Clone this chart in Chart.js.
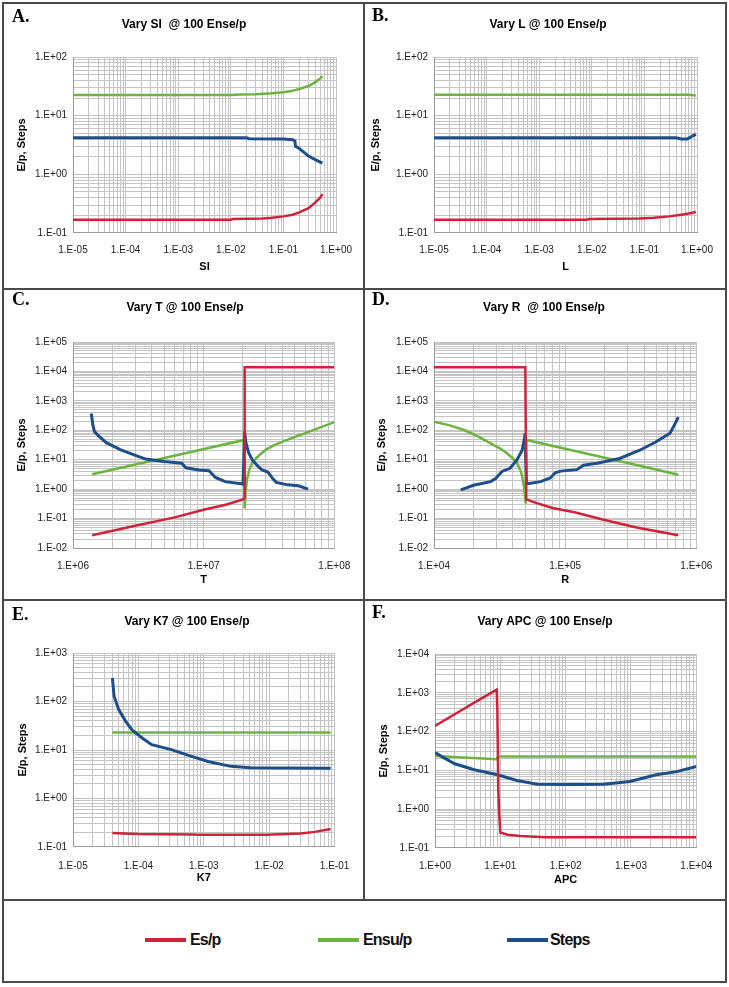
<!DOCTYPE html>
<html>
<head>
<meta charset="utf-8">
<title>Vary parameters @ 100 Ense/p</title>
<script src="https://cdn.jsdelivr.net/npm/chart.js@4.4.1/dist/chart.umd.min.js"></script>
<style>
  body { margin: 0; background: #fff; }
  #page { position: relative; width: 729px; height: 987px; font-family: "Liberation Sans", Arial, sans-serif; }
  .frame { position: absolute; left: 2px; top: 2px; width: 725px; height: 981px; box-sizing: border-box; border: 2px solid #4a4a4a; }
  .rule { position: absolute; background: #4a4a4a; }
  canvas { position: absolute; }
  .key { position: absolute; top: 938px; width: 41px; height: 4px; }
  .keytxt { position: absolute; top: 929px; line-height: 22px; font-size: 16px; font-weight: bold; letter-spacing: -0.8px; color: #111; }
</style>
</head>
<body>
<div id="page">
  <div class="frame"></div>
  <div class="rule" style="left:363px;top:2px;width:2px;height:899px"></div>
  <div class="rule" style="left:2px;top:288px;width:725px;height:2px"></div>
  <div class="rule" style="left:2px;top:599px;width:725px;height:2px"></div>
  <div class="rule" style="left:2px;top:899px;width:725px;height:2px"></div>

  <canvas id="cA" width="359" height="284" style="left:4px;top:4px"></canvas>
  <canvas id="cB" width="360" height="284" style="left:365px;top:4px"></canvas>
  <canvas id="cC" width="359" height="309" style="left:4px;top:290px"></canvas>
  <canvas id="cD" width="360" height="309" style="left:365px;top:290px"></canvas>
  <canvas id="cE" width="359" height="298" style="left:4px;top:601px"></canvas>
  <canvas id="cF" width="360" height="298" style="left:365px;top:601px"></canvas>

  <div class="key" style="left:145px;background:#d0223b"></div>
  <div class="keytxt" style="left:190px">Es/p</div>
  <div class="key" style="left:318px;background:#6db33f"></div>
  <div class="keytxt" style="left:363px">Ensu/p</div>
  <div class="key" style="left:507px;background:#1d4e89"></div>
  <div class="keytxt" style="left:550px">Steps</div>
</div>

<script>
// ---- values, [x, y] per point ----
// A. vary SI
const siRangeX = [1e-5, 1e0], siRangeY = [1e-1, 1e2];
const siEs = [[1e-5,0.168],[1e-2,0.168],[1.1e-2,0.173],[4e-2,0.176],[0.06,0.182],[0.1,0.192],[0.15,0.205],[0.2,0.225],[0.3,0.265],[0.4,0.33],[0.5,0.4],[0.55,0.46]];
const siEnsu = [[1e-5,22.5],[1e-2,22.5],[1.5e-2,23],[3e-2,23.2],[0.06,24],[0.1,25],[0.15,26.5],[0.2,28.5],[0.3,32],[0.4,37],[0.5,43],[0.55,47]];
const siSteps = [[1e-5,4.2],[0.02,4.2],[0.022,4.05],[0.1,4.0],[0.15,3.9],[0.165,3.7],[0.17,3.0],[0.2,2.75],[0.25,2.35],[0.3,2.05],[0.35,1.9],[0.45,1.7],[0.55,1.55]];

// B. vary L
const lRangeX = [1e-5, 1e0], lRangeY = [1e-1, 1e2];
const lEs = [[1e-5,0.168],[8e-3,0.168],[9e-3,0.173],[0.08,0.176],[0.15,0.182],[0.3,0.192],[0.5,0.205],[0.7,0.215],[0.95,0.228]];
const lEnsu = [[1e-5,22.8],[0.7,22.8],[0.95,22]];
const lSteps = [[1e-5,4.2],[0.4,4.2],[0.5,4.0],[0.65,4.0],[0.75,4.3],[0.95,4.8]];

// C. vary T
const tRangeX = [1e6, 1e8], tRangeY = [1e-2, 1e5];
const tEs = [[1.4e6,0.027],[3e6,0.057],[6e6,0.11],[1e7,0.2],[1.5e7,0.3],[2.0e7,0.45],[2.06e7,0.5],[2.06e7,14000],[1e8,14000]];
const tEnsu = [[1.4e6,3.2],[5e6,11.5],[2.05e7,47],[2.06e7,0.22],[2.1e7,0.9],[2.15e7,2.2],[2.25e7,5],[2.4e7,9],[2.7e7,15],[3e7,22],[3.5e7,32],[4.5e7,50],[6e7,80],[8e7,130],[1e8,190]];
const tSteps = [[1.38e6,370],[1.42e6,150],[1.46e6,90],[1.6e6,60],[1.8e6,38],[2.3e6,22],[2.9e6,15],[3.6e6,10.5],[5e6,8.7],[6.8e6,7.6],[7.3e6,5.3],[9.2e6,4.5],[1.1e7,4.2],[1.23e7,2.5],[1.46e7,1.8],[2.0e7,1.5],[2.06e7,90],[2.1e7,40],[2.2e7,18],[2.35e7,10],[2.6e7,6],[2.8e7,4.5],[3.1e7,3.8],[3.4e7,2.2],[3.6e7,1.7],[4.4e7,1.4],[5.3e7,1.3],[6.3e7,1.0]];

// D. vary R
const rRangeX = [1e4, 1e6], rRangeY = [1e-2, 1e5];
const rEs = [[1e4,14000],[4.97e4,14000],[5.05e4,0.45],[6e4,0.34],[8e4,0.23],[1.2e5,0.16],[2e5,0.09],[3.5e5,0.05],[5e5,0.037],[7.3e5,0.027]];
const rEnsu = [[1e4,195],[1.3e4,150],[1.7e4,102],[2.2e4,60],[2.7e4,36],[3.2e4,24],[3.6e4,16.6],[4e4,11],[4.3e4,7.6],[4.6e4,4],[4.7e4,2.7],[4.9e4,0.95],[5.0e4,0.32],[5.07e4,47],[1.5e5,15.6],[3e5,7.7],[7.3e5,3.1]];
const rSteps = [[1.6e4,0.95],[2.0e4,1.35],[2.7e4,1.8],[2.95e4,2.3],[3.3e4,4.0],[3.8e4,5.1],[4.3e4,10],[4.7e4,21],[4.9e4,55],[4.95e4,80],[5.07e4,1.5],[6.5e4,1.8],[7.7e4,2.4],[8.4e4,3.6],[9.2e4,4.1],[1.23e5,4.6],[1.38e5,6.5],[1.75e5,7.6],[2.6e5,11],[3.7e5,21],[4.9e5,40],[6.3e5,79],[6.8e5,150],[7.3e5,280]];

// E. vary K7
const k7RangeX = [1e-5, 1e-1], k7RangeY = [1e-1, 1e3];
const k7Es = [[4e-5,0.195],[6e-5,0.19],[1e-4,0.186],[7e-4,0.182],[8e-4,0.178],[0.01,0.178],[0.011,0.182],[0.03,0.19],[0.05,0.205],[0.087,0.235]];
const k7Ensu = [[4e-5,23],[0.087,23]];
const k7Steps = [[4e-5,305],[4.25e-5,128],[5e-5,68],[6.4e-5,39],[8e-5,26],[1.14e-4,17.7],[1.6e-4,12.9],[3.2e-4,10.2],[6.5e-4,7.4],[1.16e-3,5.8],[2.6e-3,4.6],[5.2e-3,4.3],[0.087,4.2]];

// F. vary APC
const apcRangeX = [1e0, 1e4], apcRangeY = [1e-1, 1e4];
const apcEs = [[1,140],[2,280],[4,560],[8.8,1200],[9.0,400],[9.3,3.5],[9.6,0.8],[10,0.25],[13,0.22],[20,0.205],[50,0.19],[1e4,0.19]];
const apcEnsu = [[1,23.5],[8.8,19.5],[9.2,22.8],[1e4,22.8]];
const apcSteps = [[1,29],[1.4,20.7],[2,14.8],[4,10.4],[9,7.7],[18,5.5],[37,4.4],[117,4.3],[380,4.4],[960,5.2],[2440,7.7],[5000,9.3],[1e4,12.6]];

const RED = '#d0223b', GREEN = '#6db33f', BLUE = '#1d4e89';

Chart.defaults.font.family = '"Liberation Sans", Arial, sans-serif';

// 1.E+02 style labels, only on the decades
function expLabel(v) {
    const l = Math.log10(v);
    const e = Math.round(l);
    if (Math.abs(l - e) > 1e-6) return '';
    return '1.E' + (e < 0 ? '-' : '+') + String(Math.abs(e)).padStart(2, '0');
}

// grid at 1..9 of every decade
function logGrid(scale) {
    const lo = Math.round(Math.log10(scale.options.min));
    const hi = Math.round(Math.log10(scale.options.max));
    const ticks = [];
    for (let e = lo; e < hi; e++) {
        for (let m = 1; m < 10; m++) ticks.push({value: m * Math.pow(10, e)});
    }
    ticks.push({value: Math.pow(10, hi)});
    scale.ticks = ticks;
}

const pts = arr => arr.map(([x, y]) => ({x, y}));

// title + panel letter
const panelText = {
    id: 'panelText',
    afterDraw(chart, args, o) {
        const ctx = chart.ctx;
        ctx.save();
        ctx.fillStyle = '#000';
        ctx.textBaseline = 'middle';
        ctx.textAlign = 'center';
        ctx.font = 'bold 12px "Liberation Sans", Arial, sans-serif';
        ctx.fillText(o.title, o.x, o.y);
        ctx.textAlign = 'left';
        ctx.textBaseline = 'alphabetic';
        ctx.font = 'bold 18px "Liberation Serif", "Times New Roman", serif';
        ctx.fillText(o.letter, o.lx, o.ly);
        ctx.restore();
    }
};

const panels = [
    {id: 'cA', box: [4, 4, 359, 284], plot: [73, 57, 337, 233], letter: 'A.', lx: 12, ly: 22,
     title: 'Vary SI  @ 100 Ense/p', titleX: 184, titleY: 25, xTitle: 'SI', xTitleY: 267, yTitleX: 22, xTickY: 250,
     rx: siRangeX, ry: siRangeY, es: siEs, ensu: siEnsu, steps: siSteps},
    {id: 'cB', box: [365, 4, 360, 284], plot: [434, 57, 697, 233], letter: 'B.', lx: 372, ly: 21,
     title: 'Vary L @ 100 Ense/p', titleX: 548, titleY: 25, xTitle: 'L', xTitleY: 267, yTitleX: 376, xTickY: 250,
     rx: lRangeX, ry: lRangeY, es: lEs, ensu: lEnsu, steps: lSteps},
    {id: 'cC', box: [4, 290, 359, 309], plot: [73, 342, 337, 548], letter: 'C.', lx: 12, ly: 305,
     title: 'Vary T @ 100 Ense/p', titleX: 185, titleY: 308, xTitle: 'T', xTitleY: 580, yTitleX: 22, xTickY: 566.7,
     rx: tRangeX, ry: tRangeY, es: tEs, ensu: tEnsu, steps: tSteps},
    {id: 'cD', box: [365, 290, 360, 309], plot: [434, 342, 697, 548], letter: 'D.', lx: 372, ly: 305,
     title: 'Vary R  @ 100 Ense/p', titleX: 544, titleY: 308, xTitle: 'R', xTitleY: 580, yTitleX: 382, xTickY: 566.7,
     rx: rRangeX, ry: rRangeY, es: rEs, ensu: rEnsu, steps: rSteps},
    {id: 'cE', box: [4, 601, 359, 298], plot: [73, 653, 338, 847], letter: 'E.', lx: 12, ly: 620,
     title: 'Vary K7 @ 100 Ense/p', titleX: 187, titleY: 622, xTitle: 'K7', xTitleY: 878, yTitleX: 23, xTickY: 866.7,
     rx: k7RangeX, ry: k7RangeY, es: k7Es, ensu: k7Ensu, steps: k7Steps},
    {id: 'cF', box: [365, 601, 360, 298], plot: [435, 654, 697, 848], letter: 'F.', lx: 372, ly: 618,
     title: 'Vary APC @ 100 Ense/p', titleX: 545, titleY: 622, xTitle: 'APC', xTitleY: 880, yTitleX: 384, xTickY: 866.7,
     rx: apcRangeX, ry: apcRangeY, es: apcEs, ensu: apcEnsu, steps: apcSteps}
];

function buildPanel(p) {
    const [bx, by, W, H] = p.box;
    const L = p.plot[0] - bx, T = p.plot[1] - by, R = p.plot[2] - bx, B = p.plot[3] - by;
    const padL = p.yTitleX - bx - 6.6;
    const padB = H - (p.xTitleY - by) - 6.6;
    const grid = {color: '#c4c4c4', lineWidth: 1, drawTicks: false};
    const tickFont = {size: 10};
    const titleFont = {size: 11, weight: 'bold'};

    new Chart(document.getElementById(p.id), {
        type: 'line',
        data: {
            datasets: [
                {label: 'Es/p', data: pts(p.es), borderColor: RED, borderWidth: 2.5},
                {label: 'Steps', data: pts(p.steps), borderColor: BLUE, borderWidth: 3},
                {label: 'Ensu/p', data: pts(p.ensu), borderColor: GREEN, borderWidth: 2.5}
            ]
        },
        options: {
            responsive: false,
            animation: false,
            layout: {padding: {left: padL, right: W - R, top: T, bottom: padB}},
            elements: {point: {radius: 0}, line: {tension: 0}},
            plugins: {
                legend: {display: false},
                tooltip: {enabled: false},
                panelText: {title: p.title, x: p.titleX - bx, y: p.titleY - by, letter: p.letter, lx: p.lx - bx, ly: p.ly - by}
            },
            scales: {
                x: {
                    type: 'logarithmic', min: p.rx[0], max: p.rx[1],
                    afterBuildTicks: logGrid,
                    afterFit: s => { s.height = (H - padB) - B; },
                    grid: grid,
                    border: {color: '#9a9a9a'},
                    ticks: {autoSkip: false, maxRotation: 0, minRotation: 0, padding: p.xTickY - p.plot[3] - 6,
                            color: '#222', font: tickFont, callback: v => expLabel(v)},
                    title: {display: true, text: p.xTitle, color: '#000', font: titleFont, padding: 0}
                },
                y: {
                    type: 'logarithmic', min: p.ry[0], max: p.ry[1],
                    afterBuildTicks: logGrid,
                    afterFit: s => { s.width = L - padL; },
                    grid: grid,
                    border: {color: '#9a9a9a'},
                    ticks: {autoSkip: false, padding: 6, color: '#222', font: tickFont, callback: v => expLabel(v)},
                    title: {display: true, text: 'E/p, Steps', color: '#000', font: titleFont, padding: 0}
                }
            }
        },
        plugins: [panelText]
    });
}

panels.forEach(buildPanel);
</script>
</body>
</html>
